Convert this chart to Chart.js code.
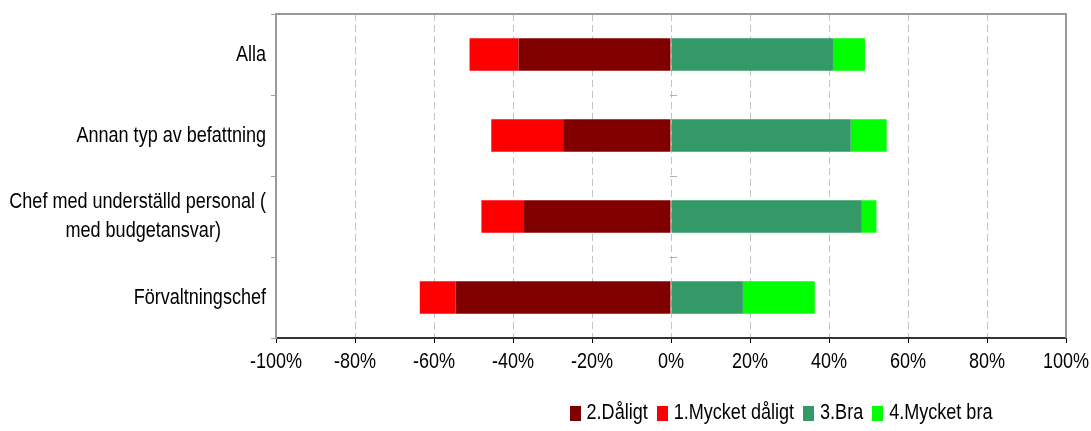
<!DOCTYPE html>
<html lang="sv">
<head>
    <meta charset="utf-8">
    <title>Betyg per befattning</title>
    <script src="https://cdn.jsdelivr.net/npm/chart.js@4.4.0/dist/chart.umd.min.js"></script>
    <style>
        html, body { margin: 0; padding: 0; background: #fff; }
        .kontainer { width: 1091px; height: 431px; }
    </style>
</head>
<body>
    <div class="kontainer">
        <canvas id="myChart" width="1091" height="431"></canvas>
    </div>
    <script>
        // kategorier (andra raden i "Chef..." flyttas in med mellanslag for att centreras)
        var grupper = [
            'Alla',
            'Annan typ av befattning',
            ['Chef med underställd personal (', 'med budgetansvar)         '],
            'Förvaltningschef'
        ];
        // andelar i procent, negativa till vänster
        var daligt = [-38.6, -27.3, -37.2, -54.5];
        var mycketDaligt = [-12.4, -18.2, -10.8, -9.1];
        var bra = [41.0, 45.5, 48.3, 18.2];
        var mycketBra = [8.1, 9.1, 3.7, 18.2];
        var procentTicks = [-100, -80, -60, -40, -20, 0, 20, 40, 60, 80, 100];

        var typsnitt = "'Liberation Sans', Arial, sans-serif";
        var smal = 0.82; // ingen Arial Narrow finns, så texten trycks ihop på bredden

        const ctx = document.getElementById('myChart').getContext('2d');
        const origFillText = ctx.fillText;
        ctx.fillText = function (t, x, y, mw) {
            this.save();
            this.translate(x, y);
            this.scale(smal, 1);
            if (mw === undefined) origFillText.call(this, t, 0, 0);
            else origFillText.call(this, t, 0, 0, mw / smal);
            this.restore();
        };

        // ram runt plottytan + små streck på nollinjen, samt legenden
        const ram = {
            id: 'ram',
            beforeDatasetsDraw(chart) {
                const a = chart.chartArea;
                const c = chart.ctx;
                const y = chart.scales.y;
                const x0 = chart.scales.x.getPixelForValue(0);
                c.save();
                c.strokeStyle = '#9a9a9a';
                c.lineWidth = 2;
                c.beginPath();
                c.moveTo(a.left, a.bottom);
                c.lineTo(a.left, a.top);
                c.lineTo(a.right, a.top);
                c.lineTo(a.right, a.bottom);
                c.stroke();
                c.lineWidth = 1;
                c.strokeStyle = '#b0b0b0';
                for (let i = 1; i < grupper.length; i++) {
                    const yy = (y.getPixelForValue(i - 1) + y.getPixelForValue(i)) / 2;
                    c.beginPath();
                    c.moveTo(x0 - 1, Math.round(yy) + 0.5);
                    c.lineTo(x0 + 6, Math.round(yy) + 0.5);
                    c.stroke();
                }
                c.restore();
            },
            afterDraw(chart) {
                const c = chart.ctx;
                c.save();
                c.font = '22px ' + typsnitt;
                c.textBaseline = 'middle';
                c.textAlign = 'left';
                const sets = chart.data.datasets;
                const bredd = t => c.measureText(t).width * smal;
                let total = 0;
                sets.forEach(ds => { total += 11 + 6 + bredd(ds.label) + 9; });
                total -= 9;
                let x = 781 - total / 2;
                const ymid = 413;
                sets.forEach(ds => {
                    c.fillStyle = ds.backgroundColor;
                    c.fillRect(Math.round(x), ymid - 7, 11, 15);
                    x += 11 + 6;
                    c.fillStyle = '#000';
                    c.fillText(ds.label, x, ymid);
                    x += bredd(ds.label) + 9;
                });
                c.restore();
            }
        };

        const myChart = new Chart(ctx, {
            type: 'bar',
            data: {
                labels: grupper,
                datasets: [
                    { label: '2.Dåligt', data: daligt, backgroundColor: '#800000' },
                    { label: '1.Mycket dåligt', data: mycketDaligt, backgroundColor: '#ff0000' },
                    { label: '3.Bra', data: bra, backgroundColor: '#339966' },
                    { label: '4.Mycket bra', data: mycketBra, backgroundColor: '#00ff00' }
                ]
            },
            options: {
                indexAxis: 'y',
                responsive: false,
                animation: false,
                barPercentage: 0.4,
                categoryPercentage: 1,
                layout: { padding: { left: 0, top: 14, right: 25, bottom: 0 } },
                plugins: {
                    legend: { display: false },
                    tooltip: { enabled: false }
                },
                scales: {
                    x: {
                        stacked: true,
                        min: -100,
                        max: 100,
                        afterBuildTicks: s => { s.ticks = procentTicks.map(v => ({ value: v })); },
                        afterFit: s => {
                            s.height = 93;
                            s.paddingLeft = 0;
                            s.paddingRight = 0;
                        },
                        ticks: {
                            callback: v => v + '%',
                            color: '#000',
                            padding: 6,
                            maxRotation: 0,
                            autoSkip: false,
                            font: { family: typsnitt, size: 22 }
                        },
                        grid: {
                            color: '#c4c4c4',
                            lineWidth: 1,
                            tickColor: '#000',
                            tickLength: 5,
                            tickBorderDash: []
                        },
                        border: { color: '#333', width: 2, dash: [7, 4] }
                    },
                    y: {
                        stacked: true,
                        afterFit: s => {
                            s.width = 276;
                            s.paddingTop = 0;
                            s.paddingBottom = 0;
                        },
                        ticks: {
                            color: '#000',
                            padding: 5,
                            font: { family: typsnitt, size: 22, lineHeight: 1.32 }
                        },
                        grid: {
                            offset: true,
                            drawOnChartArea: false,
                            color: '#a0a0a0',
                            tickLength: 5
                        },
                        border: { color: '#9a9a9a', width: 2 }
                    }
                }
            },
            plugins: [ram]
        });
    </script>
</body>
</html>
